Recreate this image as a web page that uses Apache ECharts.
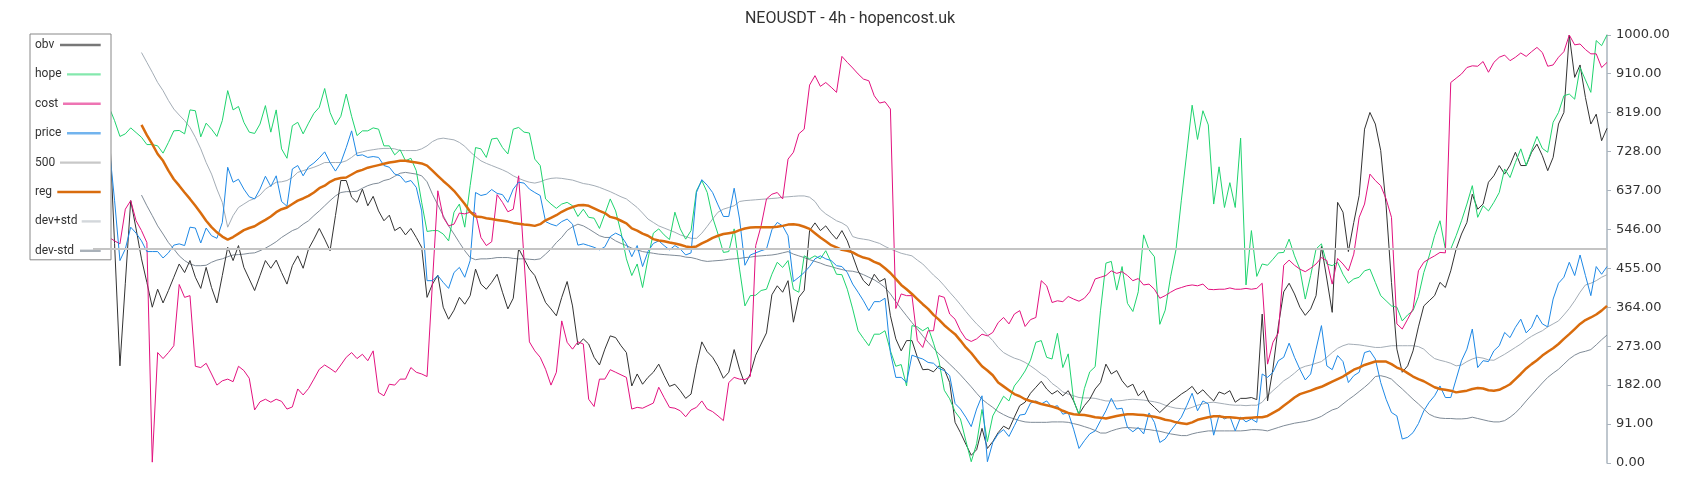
<!DOCTYPE html>
<html>
<head>
<meta charset="utf-8">
<script src="https://cdn.jsdelivr.net/npm/echarts@6/dist/echarts.min.js"></script>
<style>
html,body{margin:0;padding:0;background:#ffffff;}
#chart{width:1700px;height:500px;}
</style>
</head>
<body>
<div id="chart"></div>
<script>
const chartTitle = 'NEOUSDT - 4h - hopencost.uk';
const seriesNames = ['obv', 'hope', 'cost', 'price', '500', 'reg', 'dev+std', 'dev-std'];
const levelLine = 500;
const yTicks = { min: 0, max: 1000, interval: 91 };

const obv = [
700,740,780,795,513,227,420,613,547,477,
422,364,406,374,403,434,465,445,473,434,
408,457,410,374,438,504,473,508,457,430,
403,438,473,455,474,445,418,461,484,455,
500,523,548,523,496,578,660,660,621,609,
640,601,623,589,566,579,543,551,533,548,
527,504,387,418,439,364,336,357,387,371,
391,453,418,406,422,441,399,360,385,501,
477,453,438,406,375,360,344,387,424,367,
276,290,278,247,229,266,297,293,274,258,
180,208,184,200,212,231,204,179,184,169,
151,161,227,283,260,247,226,198,212,265,
219,184,208,252,278,304,393,414,399,426,
329,387,403,543,561,543,554,537,523,543,
519,484,449,426,414,441,424,431,344,290,
262,286,286,247,218,219,213,227,219,188,
95,71,44,18,31,81,34,50,71,86,
79,107,134,142,163,177,191,173,161,169,
157,169,145,114,134,149,173,188,231,208,
216,192,177,184,157,169,142,130,118,130,
142,151,161,169,179,161,171,157,145,166,
161,169,142,151,151,153,148,348,145,220,
320,400,420,395,364,345,360,391,506,430,
352,609,586,494,562,625,780,819,792,730,
601,422,266,212,227,262,318,367,379,391,
422,410,449,500,535,562,628,593,605,656,
671,695,675,696,726,695,695,726,745,718,
683,714,792,819,1000,901,930,854,792,815,
753,782];

const hope = [
860,850,840,831,800,763,769,783,772,761,
744,744,741,724,749,776,777,769,825,823,
762,794,780,763,800,870,825,833,796,773,
770,792,835,773,825,734,712,788,796,769,
794,817,831,875,819,790,810,862,810,765,
776,776,783,780,741,741,720,732,706,712,
683,609,541,543,543,535,519,586,605,551,
648,737,734,714,757,759,737,722,780,784,
773,771,710,695,617,605,595,605,609,601,
576,593,574,572,548,582,617,589,539,477,
438,465,410,477,537,547,533,522,586,547,
523,543,636,660,632,574,535,492,494,547,
453,367,391,392,403,406,441,469,457,473,
406,399,484,477,484,477,496,469,441,440,
406,360,309,291,274,301,301,309,262,226,
230,180,321,318,309,317,280,239,170,150,
120,103,52,3,45,125,50,110,133,156,
145,180,196,215,240,282,286,247,243,303,
223,255,147,112,174,213,225,357,467,471,
404,459,373,354,400,533,498,482,324,357,
435,498,614,724,836,756,823,790,605,692,
597,655,597,759,416,543,436,465,462,476,
491,492,523,484,453,383,438,500,512,465,
461,469,441,420,430,434,449,453,422,391,
379,367,364,332,346,356,389,445,484,531,
566,500,500,531,566,605,648,574,601,589,
609,632,687,667,702,734,695,730,763,735,
726,796,819,858,862,850,924,895,866,987,
975,1000];

const cost = [
540,535,530,527,519,512,593,613,566,543,
515,2,258,244,258,274,417,387,391,226,
223,233,208,182,192,196,190,226,216,198,
124,143,149,142,149,144,126,131,173,159,
174,196,219,229,221,212,229,247,258,244,
254,239,262,165,157,184,182,196,196,223,
212,208,202,422,636,574,554,558,584,582,
586,584,527,508,517,627,609,587,593,671,
476,283,262,247,219,182,212,332,282,266,
283,278,149,132,196,196,218,212,206,200,
126,130,128,134,140,177,153,130,128,122,
108,124,130,145,126,120,110,99,188,200,
196,195,202,508,554,617,628,632,617,710,
726,769,780,883,905,880,889,878,866,950,
936,923,909,897,893,858,841,844,827,361,
395,391,391,286,270,309,309,391,387,348,
336,309,290,284,290,301,297,305,328,340,
325,348,356,319,335,340,426,414,375,379,
377,389,383,378,385,400,430,434,438,449,
443,447,438,426,431,416,418,406,385,391,
399,406,410,414,416,414,418,406,405,406,
406,409,406,406,408,406,408,420,231,282,
304,462,474,462,453,447,455,465,480,473,
418,478,465,449,488,574,605,675,660,648,
617,574,325,313,336,360,449,469,477,484,
492,491,889,899,909,924,928,927,938,913,
936,948,953,940,948,958,950,961,971,959,
927,930,948,961,1000,977,979,966,956,956,
924,936];

const price = [
760,755,750,740,614,473,500,551,537,519,
494,494,494,479,491,509,512,508,551,549,
514,549,531,525,562,691,656,663,640,622,
617,640,670,646,671,611,600,687,695,671,
692,701,713,727,702,682,702,737,776,718,
720,714,716,714,695,691,675,671,656,660,
644,589,426,426,438,422,408,445,457,434,
473,632,625,628,639,630,627,609,640,656,
654,640,632,625,564,558,554,564,570,558,
509,512,508,504,498,505,529,537,531,512,
482,508,459,494,513,519,508,498,508,500,
486,491,632,662,649,632,603,576,576,642,
570,462,486,491,496,500,545,562,554,531,
424,434,445,459,477,484,477,473,461,459,
445,418,399,379,356,377,377,385,258,200,
200,188,252,247,243,235,233,221,216,204,
139,126,107,85,126,157,3,48,68,78,
62,87,112,114,140,145,138,145,130,134,
114,118,79,34,52,68,75,99,122,151,
126,128,83,73,83,68,117,95,48,56,
75,91,107,134,163,122,145,138,65,112,
103,109,75,107,96,103,95,208,200,212,
239,247,280,247,219,194,208,266,321,227,
218,251,237,188,204,212,258,262,243,188,
149,118,110,56,60,71,92,122,142,157,
180,153,153,196,239,266,313,223,239,237,
262,274,305,293,317,336,304,317,346,325,
318,383,420,434,469,438,486,438,391,459,
441,459];

const reg = [
null,null,null,null,null,null,null,null,null,790,
766,745,722,706,683,663,648,632,617,601,
584,566,551,539,529,522,528,536,544,549,
553,561,568,576,586,593,597,605,613,618,
624,632,642,648,657,663,666,667,674,681,
685,690,693,696,699,702,704,706,706,704,
702,700,695,683,671,659,648,636,621,605,
587,576,575,572,570,568,566,564,561,559,
557,556,554,558,567,573,579,587,593,598,
602,603,601,595,589,584,575,572,566,560,
548,543,536,531,523,520,518,515,513,510,
506,504,506,513,519,526,531,535,537,539,
544,548,550,551,551,551,551,552,554,557,
558,556,552,547,537,527,518,509,504,498,
496,492,485,480,477,470,465,455,444,430,
416,406,395,383,371,360,346,335,322,311,
301,286,270,257,241,226,216,205,188,179,
170,161,156,149,145,142,138,135,132,128,
122,117,114,113,112,110,107,106,104,107,
110,112,114,114,113,112,110,108,105,101,
99,95,93,91,95,101,104,107,109,109,
107,107,106,104,105,106,107,107,110,117,
124,134,143,153,161,165,169,174,178,184,
190,196,202,210,218,223,229,233,237,237,
237,231,223,218,210,202,196,191,184,177,
173,171,169,165,167,169,173,175,174,170,
169,171,177,184,196,208,221,231,240,251,
260,268,278,290,301,313,325,334,340,347,
356,367];

const devPlus = [
null,null,null,null,null,null,null,null,null,959,
936,913,889,870,847,827,813,800,784,761,
734,702,675,640,609,551,578,597,605,613,
618,626,640,648,656,657,660,667,679,683,
687,691,696,702,702,702,702,706,714,724,
727,730,732,734,735,735,734,730,730,730,
730,734,741,751,757,759,757,755,749,740,
727,716,706,700,695,690,685,679,671,665,
660,656,654,657,662,665,666,665,663,661,
657,653,651,648,644,639,634,628,622,617,
607,597,584,570,562,554,549,544,539,533,
529,525,525,537,553,570,586,593,597,601,
611,613,614,615,616,617,618,619,621,622,
623,624,624,621,611,593,582,574,566,561,
553,529,525,523,521,517,513,506,500,495,
490,487,484,474,465,452,439,428,414,399,
385,370,354,339,325,313,299,286,270,258,
251,245,241,235,227,218,208,200,186,177,
166,161,157,153,152,152,151,148,145,145,
145,146,148,149,148,147,145,143,140,135,
131,128,127,126,130,135,138,141,142,140,
138,136,135,135,134,135,135,142,157,169,
180,192,200,210,221,226,229,233,237,247,
258,268,274,278,277,276,274,272,270,270,
272,274,274,274,274,274,272,266,254,244,
240,237,233,227,229,237,243,247,245,241,
240,247,254,262,270,278,288,296,303,309,
318,325,332,346,361,379,399,416,420,426,
434,440];

const devMinus = [
null,null,null,null,null,null,null,null,null,626,
601,578,554,535,515,500,484,473,465,461,
461,462,469,474,477,482,486,487,488,490,
491,496,502,509,517,527,535,543,548,558,
566,578,589,601,613,624,632,634,634,635,
642,648,652,654,660,663,670,677,679,677,
675,671,657,628,603,578,554,535,515,496,
480,475,477,477,478,480,480,480,478,477,
477,476,475,477,488,500,515,527,543,552,
558,554,547,539,531,527,527,519,513,508,
502,498,494,492,490,488,487,486,485,484,
481,480,477,473,471,472,473,474,476,477,
478,480,481,483,484,485,486,488,491,494,
488,484,480,475,471,467,462,459,455,452,
449,448,445,440,434,428,420,410,395,377,
360,344,328,313,297,282,268,255,243,231,
219,206,192,178,163,149,139,130,120,113,
107,103,99,96,95,95,95,95,96,96,
96,95,92,89,85,81,76,70,70,75,
79,82,83,82,81,79,78,76,74,71,
68,66,64,64,68,71,73,75,75,75,
75,75,75,75,76,78,78,77,75,79,
83,87,90,93,95,97,100,104,109,117,
124,128,138,148,157,167,177,188,202,204,
201,196,184,173,161,149,138,126,114,108,
105,104,104,103,103,104,107,104,101,98,
96,96,99,107,117,130,145,159,173,187,
200,210,219,231,243,252,258,261,265,276,
288,299];

const categories = obv.map((_, i) => String(i));

const lineColors = {
  'obv': '#333333', 'hope': '#1fd36e', 'cost': '#e2127f', 'price': '#1e88e5',
  '500': '#c4c4c4', 'reg': '#d96c0d', 'dev+std': '#a4adb6', 'dev-std': '#7f8b97'
};
const legendIconColors = {
  'obv': '#777777', 'hope': '#84e8ad', 'cost': '#ee74b3', 'price': '#72b4ee',
  '500': '#c8c8c8', 'reg': '#d96c0d', 'dev+std': '#d3d7db', 'dev-std': '#a9b1b9'
};
// visible part of each legend key line (start offset inside a 44px key box)
const legendIconStart = {
  'obv': 3.3, 'hope': 10.3, 'cost': 6.3, 'price': 10.3,
  '500': 3.3, 'reg': 0.6, 'dev+std': 25, 'dev-std': 23.3
};

function iconPath(start) {
  return 'path://M0,0M44,14M' + start + ',5.8H44V8.2H' + start + 'Z';
}

function lineSeries(name, data, width, z) {
  return {
    name: name, type: 'line', data: data, symbol: 'none', showSymbol: false,
    connectNulls: false, z: z, animation: false,
    lineStyle: { color: lineColors[name], width: width },
    itemStyle: { color: lineColors[name] },
    emphasis: { disabled: true }
  };
}

const chart = echarts.init(document.getElementById('chart'), null, { renderer: 'canvas' });
chart.setOption({
  animation: false,
  backgroundColor: '#ffffff',
  textStyle: { fontFamily: 'Roboto, sans-serif' },
  title: {
    text: chartTitle, left: 'center', top: 6,
    textStyle: { fontSize: 16, fontWeight: 'normal', color: '#333333', fontFamily: 'Roboto, sans-serif' }
  },
  legend: {
    orient: 'vertical', left: 30, top: 34, align: 'right',
    itemWidth: 44, itemHeight: 14, itemGap: 15.4,
    padding: [4, 10.3, 2, 5],
    borderColor: '#888888', borderWidth: 1, backgroundColor: '#ffffff',
    selectedMode: false,
    itemStyle: { borderWidth: 0 },
    formatter: function (name) { return '{n|' + name + '}'; },
    textStyle: {
      color: '#333333', fontSize: 12, fontFamily: 'Roboto, sans-serif',
      rich: { n: { width: 16.7, align: 'left', color: '#333333', fontSize: 12, fontFamily: 'Roboto, sans-serif' } }
    },
    data: seriesNames.map(function (n) {
      return { name: n, icon: iconPath(legendIconStart[n]), itemStyle: { color: legendIconColors[n], borderWidth: 0 } };
    })
  },
  grid: { left: 93, right: 93, top: 35, bottom: 37, containLabel: false },
  xAxis: { type: 'category', data: categories, boundaryGap: false, show: false },
  yAxis: {
    type: 'value', position: 'right', min: yTicks.min, max: yTicks.max, interval: yTicks.interval,
    splitLine: { show: false },
    axisLine: { show: true, lineStyle: { color: '#aab4be', width: 1.5 } },
    axisTick: { show: true, length: 4, lineStyle: { color: '#aab4be', width: 1 } },
    axisLabel: {
      color: '#333333', fontSize: 13, margin: 9, fontFamily: 'DejaVu Sans, sans-serif',
      formatter: function (v) { return Number(v).toFixed(2); }
    }
  },
  series: [
    lineSeries('obv', obv, 1, 3),
    lineSeries('hope', hope, 1, 3),
    lineSeries('cost', cost, 1, 3),
    lineSeries('price', price, 1, 3),
    {
      name: '500', type: 'line', data: [], symbol: 'none', z: 2, animation: false,
      lineStyle: { color: lineColors['500'], width: 2 }, itemStyle: { color: lineColors['500'] },
      markLine: {
        silent: true, symbol: 'none', animation: false, label: { show: false },
        lineStyle: { color: lineColors['500'], width: 2, type: 'solid' },
        emphasis: { disabled: true },
        data: [{ yAxis: levelLine }]
      }
    },
    lineSeries('reg', reg, 2.5, 4),
    lineSeries('dev+std', devPlus, 1, 2),
    lineSeries('dev-std', devMinus, 1, 2)
  ]
});
</script>
</body>
</html>
